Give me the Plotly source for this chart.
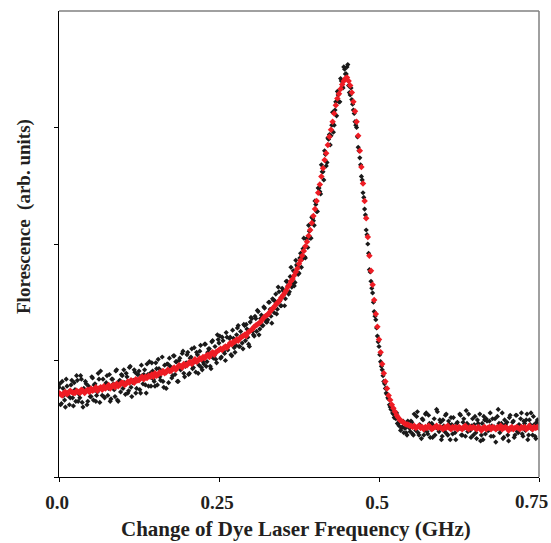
import numpy as np
import plotly.graph_objects as go

# Frequency grid (GHz): uniform sampling step of the scan
x_start = 0.0
x_step = 0.0025

# Averaged fluorescence (red), arb. units, one row per 0.025 GHz
red_vals = [
    0.72, 0.71, 0.70, 0.72, 0.73, 0.71, 0.72, 0.74, 0.73, 0.72,
    0.72, 0.74, 0.73, 0.72, 0.75, 0.74, 0.72, 0.74, 0.75, 0.73,
    0.76, 0.74, 0.75, 0.77, 0.74, 0.76, 0.77, 0.75, 0.78, 0.76,
    0.77, 0.79, 0.76, 0.78, 0.79, 0.77, 0.80, 0.78, 0.79, 0.81,
    0.81, 0.79, 0.80, 0.82, 0.81, 0.83, 0.82, 0.81, 0.84, 0.83,
    0.83, 0.85, 0.86, 0.84, 0.86, 0.85, 0.87, 0.86, 0.88, 0.86,
    0.89, 0.87, 0.88, 0.90, 0.89, 0.91, 0.89, 0.90, 0.92, 0.91,
    0.91, 0.93, 0.94, 0.92, 0.94, 0.96, 0.95, 0.94, 0.97, 0.96,
    0.96, 0.98, 0.99, 0.97, 0.99, 1.01, 0.99, 1.00, 1.02, 1.01,
    1.03, 1.02, 1.04, 1.05, 1.03, 1.06, 1.07, 1.05, 1.07, 1.08,
    1.09, 1.10, 1.09, 1.11, 1.12, 1.11, 1.13, 1.15, 1.14, 1.16,
    1.16, 1.18, 1.17, 1.19, 1.20, 1.21, 1.22, 1.21, 1.24, 1.25,
    1.26, 1.27, 1.29, 1.30, 1.31, 1.32, 1.33, 1.35, 1.37, 1.38,
    1.39, 1.40, 1.42, 1.44, 1.45, 1.47, 1.49, 1.50, 1.52, 1.54,
    1.56, 1.58, 1.60, 1.63, 1.65, 1.68, 1.70, 1.73, 1.76, 1.79,
    1.83, 1.86, 1.90, 1.94, 1.98, 2.02, 2.07, 2.12, 2.18, 2.24,
    2.30, 2.37, 2.44, 2.51, 2.58, 2.65, 2.72, 2.78, 2.85, 2.92,
    2.98, 3.05, 3.12, 3.19, 3.25, 3.29, 3.33, 3.37, 3.40, 3.42,
    3.43, 3.40, 3.36, 3.30, 3.22, 3.14, 3.05, 2.93, 2.80, 2.66,
    2.52, 2.37, 2.22, 2.06, 1.90, 1.77, 1.65, 1.52, 1.40, 1.29,
    1.18, 1.07, 0.97, 0.89, 0.82, 0.76, 0.70, 0.66, 0.62, 0.59,
    0.56, 0.53, 0.51, 0.49, 0.48, 0.47, 0.46, 0.45, 0.45, 0.44,
    0.44, 0.43, 0.44, 0.42, 0.43, 0.44, 0.42, 0.43, 0.41, 0.43,
    0.42, 0.44, 0.43, 0.41, 0.42, 0.43, 0.44, 0.42, 0.43, 0.42,
    0.41, 0.43, 0.42, 0.44, 0.42, 0.41, 0.43, 0.42, 0.43, 0.41,
    0.43, 0.42, 0.41, 0.43, 0.44, 0.42, 0.41, 0.43, 0.42, 0.43,
    0.42, 0.41, 0.43, 0.42, 0.40, 0.42, 0.43, 0.41, 0.42, 0.43,
    0.41, 0.43, 0.42, 0.41, 0.43, 0.42, 0.44, 0.41, 0.42, 0.43,
    0.42, 0.40, 0.42, 0.43, 0.41, 0.42, 0.43, 0.42, 0.41, 0.43,
    0.42, 0.43, 0.41, 0.42, 0.44, 0.42, 0.41, 0.43, 0.42, 0.43,
    0.42,
]

# Raw fluorescence signal (black), arb. units, on the same grid
black_vals = [
    0.77, 0.62, 0.82, 0.70, 0.60, 0.78, 0.73, 0.68, 0.83, 0.61,
    0.75, 0.87, 0.65, 0.68, 0.84, 0.60, 0.74, 0.80, 0.65, 0.73,
    0.69, 0.85, 0.79, 0.65, 0.73, 0.84, 0.91, 0.70, 0.69, 0.79,
    0.87, 0.76, 0.65, 0.84, 0.80, 0.69, 0.92, 0.65, 0.83, 0.88,
    0.76, 0.81, 0.89, 0.72, 0.94, 0.77, 0.81, 0.92, 0.72, 0.88,
    0.91, 0.72, 0.87, 0.88, 0.79, 0.97, 0.78, 0.89, 0.98, 0.84,
    0.78, 0.93, 1.01, 0.86, 0.91, 0.82, 0.96, 0.76, 0.97, 1.02,
    0.92, 0.87, 1.04, 0.99, 0.82, 1.00, 0.92, 1.06, 0.89, 0.95,
    1.05, 0.88, 1.02, 1.10, 0.94, 0.99, 1.07, 0.89, 1.08, 0.94,
    0.99, 1.14, 0.95, 1.07, 1.10, 0.93, 1.17, 1.04, 1.01, 1.22,
    1.15, 1.02, 1.20, 1.08, 1.00, 1.20, 1.13, 1.20, 1.04, 1.19,
    1.07, 1.22, 1.30, 1.12, 1.21, 1.10, 1.30, 1.31, 1.20, 1.12,
    1.37, 1.25, 1.21, 1.36, 1.43, 1.22, 1.36, 1.30, 1.46, 1.35,
    1.33, 1.50, 1.44, 1.32, 1.52, 1.51, 1.40, 1.63, 1.51, 1.47,
    1.60, 1.47, 1.68, 1.64, 1.59, 1.80, 1.66, 1.64, 1.86, 1.81,
    1.75, 1.92, 1.87, 2.05, 1.88, 2.05, 2.16, 2.05, 2.23, 2.20,
    2.37, 2.28, 2.48, 2.45, 2.68, 2.62, 2.80, 2.67, 2.91, 2.94,
    2.93, 3.13, 3.02, 3.22, 3.31, 3.22, 3.42, 3.35, 3.52, 3.46,
    3.52, 3.36, 3.28, 3.24, 3.15, 3.05, 3.00, 2.83, 2.74, 2.58,
    2.44, 2.30, 2.12, 2.00, 1.78, 1.68, 1.58, 1.42, 1.35, 1.21,
    1.12, 0.99, 0.92, 0.82, 0.76, 0.71, 0.67, 0.60, 0.60, 0.54,
    0.53, 0.55, 0.46, 0.48, 0.42, 0.48, 0.42, 0.38, 0.48, 0.42,
    0.48, 0.37, 0.54, 0.40, 0.56, 0.36, 0.43, 0.50, 0.36, 0.54,
    0.39, 0.53, 0.34, 0.46, 0.44, 0.36, 0.58, 0.41, 0.49, 0.32,
    0.49, 0.39, 0.54, 0.36, 0.45, 0.51, 0.37, 0.43, 0.32, 0.47,
    0.42, 0.53, 0.36, 0.50, 0.35, 0.46, 0.54, 0.40, 0.44, 0.36,
    0.52, 0.33, 0.46, 0.54, 0.36, 0.32, 0.49, 0.50, 0.40, 0.48,
    0.35, 0.50, 0.43, 0.30, 0.52, 0.46, 0.41, 0.55, 0.34, 0.45,
    0.47, 0.31, 0.53, 0.41, 0.48, 0.36, 0.53, 0.38, 0.42, 0.55,
    0.35, 0.46, 0.49, 0.32, 0.49, 0.55, 0.36, 0.45, 0.33, 0.49,
    0.45,
]

# Raw fluorescence signal (black), readings taken half a step later
black_vals_mid = [
    0.80, 0.63, 0.76, 0.66, 0.84, 0.70, 0.62, 0.79, 0.68, 0.81,
    0.65, 0.83, 0.71, 0.87, 0.64, 0.76, 0.82, 0.62, 0.78, 0.69,
    0.86, 0.66, 0.80, 0.70, 0.89, 0.64, 0.77, 0.84, 0.68, 0.81,
    0.70, 0.88, 0.67, 0.84, 0.75, 0.91, 0.66, 0.82, 0.73, 0.87,
    0.92, 0.71, 0.86, 0.74, 0.95, 0.69, 0.83, 0.90, 0.76, 0.88,
    0.75, 0.96, 0.80, 0.92, 0.72, 0.88, 0.99, 0.78, 0.91, 0.82,
    0.98, 0.79, 0.93, 0.83, 1.03, 0.77, 0.90, 0.97, 0.81, 0.95,
    0.85, 1.04, 0.88, 0.99, 0.82, 1.02, 0.93, 1.08, 0.86, 0.98,
    1.07, 0.89, 1.03, 0.93, 1.11, 0.90, 1.05, 0.96, 1.13, 0.92,
    0.97, 1.14, 0.99, 1.10, 0.95, 1.16, 1.02, 1.12, 0.98, 1.18,
    1.21, 1.03, 1.17, 1.06, 1.24, 1.09, 1.19, 1.05, 1.26, 1.11,
    1.13, 1.28, 1.12, 1.25, 1.15, 1.31, 1.17, 1.27, 1.14, 1.33,
    1.36, 1.22, 1.38, 1.25, 1.42, 1.27, 1.39, 1.30, 1.45, 1.33,
    1.35, 1.50, 1.38, 1.53, 1.41, 1.57, 1.44, 1.59, 1.47, 1.62,
    1.60, 1.53, 1.68, 1.57, 1.72, 1.63, 1.77, 1.67, 1.82, 1.74,
    1.88, 1.80, 1.96, 1.89, 2.04, 1.97, 2.11, 2.05, 2.22, 2.16,
    2.34, 2.28, 2.48, 2.43, 2.62, 2.55, 2.77, 2.70, 2.90, 2.85,
    3.02, 2.96, 3.15, 3.10, 3.28, 3.22, 3.40, 3.34, 3.50, 3.46,
    3.54, 3.30, 3.34, 3.20, 3.12, 3.02, 2.92, 2.80, 2.68, 2.55,
    2.40, 2.25, 2.08, 1.92, 1.76, 1.62, 1.50, 1.38, 1.28, 1.16,
    1.05, 0.95, 0.87, 0.80, 0.72, 0.68, 0.62, 0.58, 0.55, 0.51,
    0.50, 0.46, 0.44, 0.40, 0.43, 0.38, 0.42, 0.36, 0.45, 0.39,
    0.47, 0.36, 0.43, 0.52, 0.38, 0.45, 0.33, 0.49, 0.40, 0.55,
    0.37, 0.46, 0.41, 0.34, 0.50, 0.43, 0.56, 0.39, 0.47, 0.35,
    0.44, 0.53, 0.37, 0.48, 0.32, 0.45, 0.51, 0.38, 0.46, 0.41,
    0.54, 0.36, 0.47, 0.42, 0.57, 0.39, 0.44, 0.34, 0.50, 0.45,
    0.38, 0.49, 0.43, 0.31, 0.46, 0.52, 0.37, 0.48, 0.40, 0.55,
    0.44, 0.35, 0.50, 0.41, 0.58, 0.38, 0.46, 0.33, 0.49, 0.43,
    0.36, 0.51, 0.42, 0.47, 0.34, 0.53, 0.39, 0.45, 0.50, 0.37,
    0.48, 0.40, 0.54, 0.36, 0.45, 0.41, 0.52, 0.35, 0.47, 0.43,
]

x_tickvals = [0.0, 0.25, 0.5, 0.75]
x_ticktext = ["0.0", "0.25", "0.5", ""]
last_tick_label = "0.75"
y_tickvals = [0, 1, 2, 3]

x_vals = x_start + x_step * np.arange(len(red_vals))
x_vals_mid = x_start + x_step / 2 + x_step * np.arange(len(black_vals_mid))

FONT = "Liberation Serif"
TXT = "#231f20"

fig = go.Figure()
for xs, ys in ((x_vals, black_vals), (x_vals_mid, black_vals_mid)):
    fig.add_trace(go.Scatter(
        x=xs, y=ys, mode="markers",
        marker=dict(symbol="diamond", size=4, color="#1a1a1a", line=dict(width=0)),
        showlegend=False, hoverinfo="skip",
    ))
fig.add_trace(go.Scatter(
    x=x_vals, y=red_vals, mode="markers",
    marker=dict(symbol="diamond", size=5, color="#ee1c24", line=dict(width=0)),
    showlegend=False, hoverinfo="skip",
))

fig.update_layout(
    width=551, height=543,
    margin=dict(l=59, r=12, t=11, b=66),
    paper_bgcolor="white", plot_bgcolor="white",
    font=dict(family=FONT, color=TXT),
    xaxis=dict(
        range=[0, 0.75], tickvals=x_tickvals, ticktext=x_ticktext,
        ticks="outside", ticklen=4, tickcolor="black", tickwidth=1,
        showline=True, linecolor="black", linewidth=1.2,
        showgrid=False, zeroline=False,
        ticklabelstandoff=4, ticklabelshift=-2,
        tickfont=dict(family=FONT, size=19, color=TXT, weight="bold"),
    ),
    yaxis=dict(
        range=[0, 4], tickvals=y_tickvals, showticklabels=False,
        ticks="outside", ticklen=4, tickcolor="black", tickwidth=1,
        showline=True, linecolor="black", linewidth=1.2,
        showgrid=False, zeroline=False,
    ),
    shapes=[
        dict(type="line", xref="paper", yref="paper", x0=0, x1=1, y0=1, y1=1,
             line=dict(color="#808080", width=1.5)),
        dict(type="line", xref="paper", yref="paper", x0=1, x1=1, y0=0, y1=1,
             line=dict(color="#808080", width=1.5)),
    ],
    annotations=[
        dict(text="<b>" + last_tick_label + "</b>",
             xref="x", yref="paper", x=x_tickvals[-1], y=-0.0536,
             xshift=-8, xanchor="center", yanchor="middle", showarrow=False,
             font=dict(family=FONT, size=19, color=TXT)),
        dict(text="<b>Change of Dye Laser Frequency (GHz)</b>",
             xref="paper", yref="paper", x=0.494, y=-0.112,
             xanchor="center", yanchor="middle", showarrow=False,
             font=dict(family=FONT, size=21, color=TXT)),
        dict(text="<b>Florescence  (arb. units)</b>",
             xref="paper", yref="paper", x=-0.073, y=0.56,
             xanchor="center", yanchor="middle", showarrow=False, textangle=-90,
             font=dict(family=FONT, size=19, color=TXT)),
    ],
)

fig.write_html(
    "out.html",
    config={"displayModeBar": False},
    post_script="document.body.style.margin='0';document.body.style.padding='0';",
)
